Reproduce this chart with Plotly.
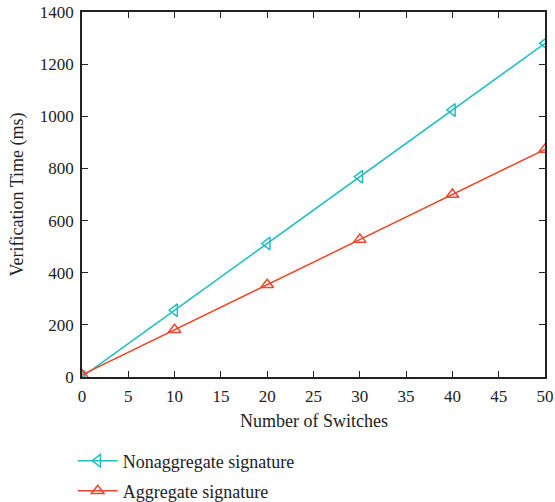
import plotly.graph_objects as go

switches = [0, 10, 20, 30, 40, 50]
nonaggregate = [0, 256, 512, 768, 1024, 1280]
aggregate = [8, 181, 354, 527, 700, 873]

teal = "#20BFBF"
red = "#F0462A"
font_family = "Liberation Serif"

fig = go.Figure()
fig.add_trace(go.Scatter(
    x=switches, y=nonaggregate, mode="lines+markers", name="Nonaggregate signature",
    line=dict(color=teal, width=1.5),
    marker=dict(symbol="triangle-left-open", size=11, color=teal, line=dict(width=1.5)),
    legend="legend",
))
fig.add_trace(go.Scatter(
    x=switches, y=aggregate, mode="lines+markers", name="Aggregate signature",
    line=dict(color=red, width=1.5),
    marker=dict(symbol="triangle-up-open", size=11, color=red, line=dict(width=1.5)),
    legend="legend2",
))

axis_common = dict(
    showgrid=False, zeroline=False, showline=True, linecolor="#222", linewidth=1.5,
    mirror="ticks", ticks="inside", ticklen=6, tickwidth=1.2, tickcolor="#222",
    tickfont=dict(family=font_family, size=17, color="#222"),
    automargin=False, ticklabelstandoff=3,
)

legend_common = dict(x=-0.02, xanchor="left", yanchor="middle", font=dict(size=18),
                     bgcolor="rgba(0,0,0,0)", itemwidth=40)

fig.update_layout(
    width=555, height=502,
    margin=dict(l=82, r=10, t=12, b=125, autoexpand=False),
    paper_bgcolor="white", plot_bgcolor="white",
    font=dict(family=font_family, size=17, color="#222"),
    xaxis=dict(range=[0, 50], dtick=5, **axis_common),
    yaxis=dict(range=[0, 1400], dtick=200, **axis_common),
    legend=dict(y=(377 - 461) / 365, **legend_common),
    legend2=dict(y=(377 - 491) / 365, **legend_common),
    showlegend=True,
    annotations=[
        dict(text="Number of Switches", x=0.5, y=0, xref="paper", yref="paper",
             xanchor="center", yanchor="middle", yshift=-44, showarrow=False,
             font=dict(size=18)),
        dict(text="Verification Time (ms)", x=0, y=0.5, xref="paper", yref="paper",
             xanchor="center", yanchor="middle", xshift=-65, textangle=-90,
             showarrow=False, font=dict(size=18)),
    ],
)

fig.write_html("out.html")
